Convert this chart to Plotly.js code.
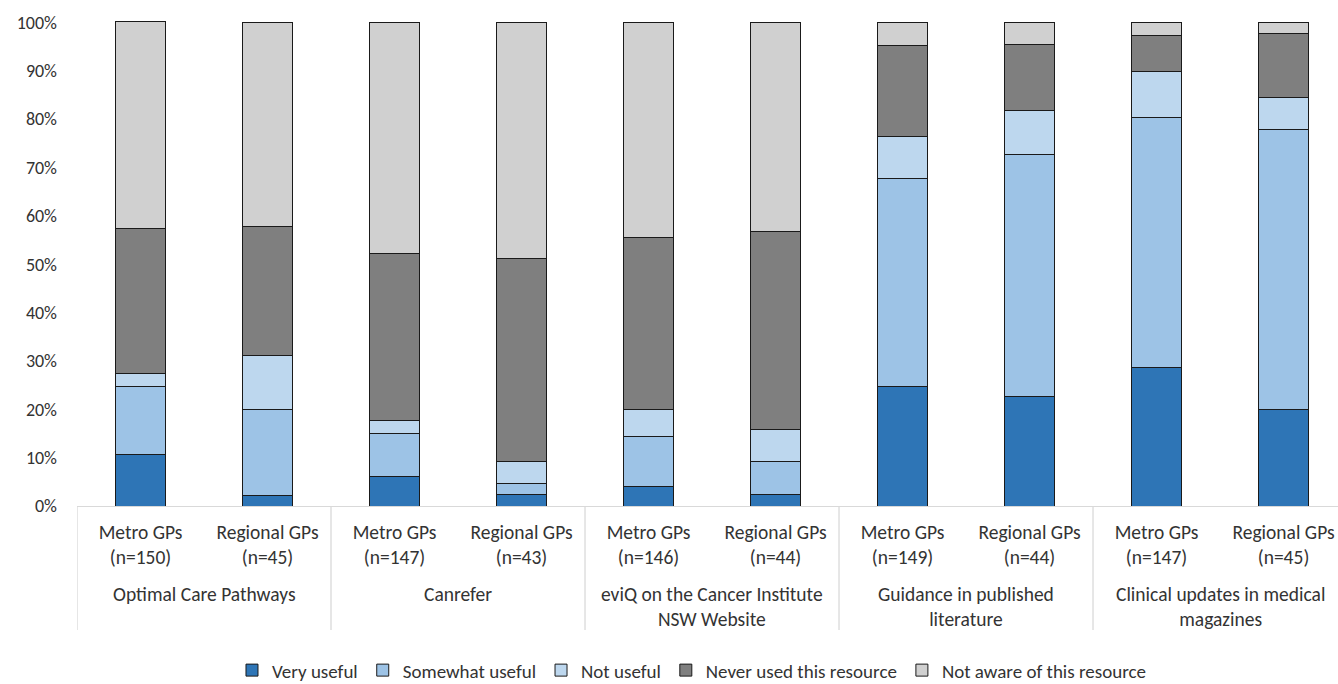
<!DOCTYPE html>
<html>
<head>
<meta charset="utf-8">
<script src="https://cdn.plot.ly/plotly-3.0.1.min.js"></script>
<style>html,body{margin:0;padding:0;background:#fff;}#chart{width:1338px;height:684px;}</style>
</head>
<body>
<div id="chart"></div>
<script>
// ---- data ----
const groups = ["Optimal Care Pathways", "Canrefer", "eviQ on the Cancer Institute<br>NSW Website", "Guidance in published<br>literature", "Clinical updates in medical<br>magazines"];
const subgroups = ["Metro GPs", "Regional GPs"];
const nValues = [150, 45, 147, 43, 146, 44, 149, 44, 147, 45];
const seriesNames = ["Very useful", "Somewhat useful", "Not useful", "Never used this resource", "Not aware of this resource"];
const veryUseful     = [10.7,  2.2,  6.1,  2.3,  4.1,  2.3, 24.8, 22.7, 28.6, 20.0];
const somewhatUseful = [14.0, 17.8,  8.8,  2.3, 10.3,  6.8, 43.0, 50.0, 51.7, 57.8];
const notUseful      = [ 2.7, 11.1,  2.7,  4.7,  5.5,  6.8,  8.7,  9.1,  9.5,  6.7];
const neverUsed      = [30.0, 26.7, 34.7, 41.9, 35.6, 40.9, 18.8, 13.6,  7.5, 13.3];
const notAware       = [42.7, 42.2, 47.6, 48.8, 44.5, 43.2,  4.7,  4.5,  2.7,  2.2];
const yTicks = [0, 10, 20, 30, 40, 50, 60, 70, 80, 90, 100];

// ---- styles ----
const colors = ["#2E75B6", "#9DC3E6", "#BDD7EE", "#7F7F7F", "#D0D0D0"];
const FONT = "Carlito, Lato, sans-serif";
const TXT = "#333333";
const FS = 19.5;

const xIdx = nValues.map((_, i) => i);
const barLabels = nValues.map((n, i) => subgroups[i % subgroups.length] + "<br>(n=" + n + ")");
const seriesValues = [veryUseful, somewhatUseful, notUseful, neverUsed, notAware];

const traces = seriesValues.map((vals, k) => ({
  type: "bar",
  name: seriesNames[k],
  x: xIdx,
  y: vals,
  marker: {color: colors[k], line: {color: "#1a1a1a", width: 1}},
  hoverinfo: "skip"
}));

const perGroup = subgroups.length;
const shapes = [];
for (let g = 0; g <= groups.length; g++) {
  shapes.push({
    type: "line", xref: "x", yref: "paper",
    x0: g * perGroup - 0.5, x1: g * perGroup - 0.5,
    y0: 0, y1: -0.255,
    line: {color: "#D9D9D9", width: 1.3}
  });
}
const annotations = groups.map((g, i) => ({
  xref: "x", yref: "paper",
  x: i * perGroup + (perGroup - 1) / 2, y: -0.152,
  xanchor: "center", yanchor: "top",
  text: g, showarrow: false,
  font: {family: FONT, size: FS, color: TXT}
}));

const layout = {
  width: 1338, height: 684,
  margin: {l: 77, r: 0, t: 20, b: 178, autoexpand: false},
  paper_bgcolor: "#fff", plot_bgcolor: "#fff",
  barmode: "stack",
  bargap: 0.6,
  showlegend: true,
  legend: {
    orientation: "h", traceorder: "normal",
    x: 0.4877, xanchor: "center", y: -0.338, yanchor: "middle",
    font: {family: FONT, size: 19, color: TXT}
  },
  xaxis: {
    range: [-0.5, 9.429],
    tickmode: "array", tickvals: xIdx, ticktext: barLabels,
    showline: true, linecolor: "#D9D9D9", linewidth: 1.3,
    showgrid: false, zeroline: false, ticks: "",
    ticklabelstandoff: 8,
    tickfont: {family: FONT, size: FS, color: TXT}
  },
  yaxis: {
    range: [0, 100.5],
    tickmode: "array", tickvals: yTicks, ticktext: yTicks.map(v => v + "%"),
    showline: false, showgrid: false, zeroline: false, ticks: "",
    ticklabelstandoff: 19,
    tickfont: {family: FONT, size: 18, color: TXT}
  },
  shapes: shapes,
  annotations: annotations
};

Plotly.newPlot("chart", traces, layout, {staticPlot: true, displayModeBar: false});
</script>
</body>
</html>
